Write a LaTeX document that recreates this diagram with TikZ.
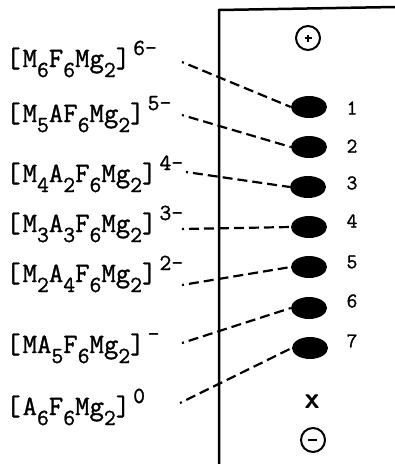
\documentclass[tikz,border=0pt]{standalone}
\usepackage{fontspec}
\newfontfamily\labfont[FakeBold=1.2]{Latin Modern Mono}
\usetikzlibrary{shapes.geometric}
\newcommand{\sbb}[1]{\raisebox{-10pt}{\fontsize{23}{23}\selectfont #1}}
\newcommand{\spp}[1]{\hspace{3pt}\raisebox{12pt}{\fontsize{23}{23}\selectfont #1}}
\newcommand{\lb}{[\hspace{2pt}}
\begin{document}
\begin{tikzpicture}[x=1pt,y=-1pt,
  lab/.style={anchor=base west, inner sep=0pt, font=\fontsize{28}{28}\selectfont\labfont},
  spot/.style={ellipse, fill=black, minimum width=36pt, minimum height=22pt, inner sep=0pt},
  num/.style={font=\fontsize{21}{21}\selectfont\labfont, inner sep=0pt},
  dline/.style={line width=2.2pt, dash pattern=on 10pt off 5pt, dash phase=8pt},
  frame/.style={line width=2.5pt},
  pole/.style={circle, draw, line width=2pt, minimum size=24pt, inner sep=0pt},
  signbar/.style={line width=2.8pt}]
\useasboundingbox (0,0) rectangle (395,464);
% frame
\coordinate (fb) at (219,464);
\coordinate (ft) at (219,10);
\coordinate (fr) at (395,7);
\draw[frame] (fb) -- (ft) -- (fr);
% poles
\node[pole] (pp) at (308,38) {};
\draw[signbar] ([xshift=-3.5pt]pp.center) -- ([xshift=3.5pt]pp.center);
\draw[signbar] ([yshift=-3.5pt]pp.center) -- ([yshift=3.5pt]pp.center);
\node[pole] (mm) at (313,440) {};
\draw[signbar] ([xshift=-5pt]mm.center) -- ([xshift=4pt]mm.center);
\node[font=\fontsize{30}{30}\selectfont\sffamily\bfseries, inner sep=0pt] (xm) at (312,402) {x};
% spots
\node[spot] (s1) at (309,107) {};
\node[spot] (s2) at (309,147) {};
\node[spot] (s3) at (308,187) {};
\node[spot] (s4) at (309,227) {};
\node[spot] (s5) at (309,267) {};
\node[spot] (s6) at (309,308) {};
\node[spot] (s7) at (310,348) {};
% numbers
\node[num] (n1) at (352,108) {1};
\node[num] (n2) at (352,146) {2};
\node[num] (n3) at (352,183) {3};
\node[num] (n4) at (352,221) {4};
\node[num] (n5) at (352,262) {5};
\node[num] (n6) at (352,301) {6};
\node[num] (n7) at (352,341) {7};
% labels
\node[lab] (l1) at (6,67) {\lb M\sbb{6}F\sbb{6}Mg\sbb{2}]\spp{6-}};
\node[lab] (l2) at (6,122) {\lb M\sbb{5}AF\sbb{6}Mg\sbb{2}]\spp{5-}};
\node[lab] (l3) at (6,182) {\lb M\sbb{4}A\sbb{2}F\sbb{6}Mg\sbb{2}]\spp{4-}};
\node[lab] (l4) at (6,232) {\lb M\sbb{3}A\sbb{3}F\sbb{6}Mg\sbb{2}]\spp{3-}};
\node[lab] (l5) at (6,282) {\lb M\sbb{2}A\sbb{4}F\sbb{6}Mg\sbb{2}]\spp{2-}};
\node[lab] (l6) at (6,353) {\lb MA\sbb{5}F\sbb{6}Mg\sbb{2}]\spp{-}};
\node[lab] (l7) at (6,415) {\lb A\sbb{6}F\sbb{6}Mg\sbb{2}]\spp{0}};
% line starts
\coordinate (c1) at (182,62);
\coordinate (c2) at (182,115);
\coordinate (c3) at (186,172);
\coordinate (c4) at (182,229);
\coordinate (c5) at (182,285);
\coordinate (c6) at (182,343);
\coordinate (c7) at (180,403);
\draw[dline] (c1) -- (s1.west);
\draw[dline] (c2) -- (s2.west);
\draw[dline] (c3) -- (s3.west);
\draw[dline] (c4) -- (s4.west);
\draw[dline] (c5) -- (s5.west);
\draw[dline] (c6) -- (s6.west);
\draw[dline] (c7) -- (s7.west);
\end{tikzpicture}
\end{document}
